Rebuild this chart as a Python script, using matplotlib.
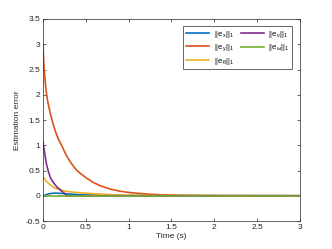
import numpy as np
import matplotlib
matplotlib.use("Agg")
from matplotlib import pyplot as plt

# values
t_ex = [0, 0.03, 0.06, 0.1, 0.15, 0.2, 0.3, 0.4, 0.5, 0.7, 1.0, 3.0]
ex = [0, 0.015, 0.035, 0.048, 0.052, 0.048, 0.035, 0.024, 0.016, 0.007, 0.002, 0]

t_ey = [0, 0.005, 0.01, 0.017, 0.025, 0.033, 0.043, 0.055, 0.07, 0.087, 0.105, 0.125,
        0.15, 0.18, 0.217, 0.255, 0.3, 0.34, 0.384, 0.43, 0.5, 0.58,
        0.665, 0.78, 0.9, 1.0, 1.13, 1.25, 1.37, 1.6, 2.0, 3.0]
ey = [3.0, 2.78, 2.6, 2.43, 2.28, 2.14, 2.0, 1.87, 1.75, 1.62, 1.5, 1.38,
      1.25, 1.12, 1.0, 0.86, 0.72, 0.62, 0.52, 0.45, 0.36, 0.27,
      0.2, 0.135, 0.09, 0.066, 0.045, 0.03, 0.02, 0.01, 0.003, 0]

t_eth = [0, 0.02, 0.043, 0.08, 0.12, 0.16, 0.2, 0.24, 0.28, 0.35, 0.43, 0.55,
         0.7, 0.85, 1.0, 1.3, 3.0]
eth = [0.38, 0.33, 0.28, 0.22, 0.17, 0.14, 0.12, 0.1, 0.085, 0.072, 0.06, 0.045,
       0.03, 0.018, 0.01, 0.004, 0]

t_ev = [0, 0.005, 0.01, 0.016, 0.023, 0.033, 0.043, 0.055, 0.065, 0.082, 0.095,
        0.11, 0.125, 0.14, 0.155, 0.17, 0.185, 0.2, 0.215, 0.23, 0.245, 0.257,
        0.275, 3.0]
ev = [1.07, 1.0, 0.95, 0.88, 0.81, 0.7, 0.61, 0.53, 0.47, 0.38, 0.33,
      0.29, 0.255, 0.22, 0.19, 0.16, 0.14, 0.12, 0.097, 0.075, 0.055, 0.04,
      0.0, 0.0]

t_ew = [0, 3.0]
ew = [0, 0]

labels = ["||e$_x$||$_1$", "||e$_y$||$_1$", "||e$_\\theta$||$_1$",
          "||e$_v$||$_1$", "||e$_\\omega$||$_1$"]
colors = ["#0072BD", "#D95319", "#EDB120", "#7E2F8E", "#77AC30"]

plt.rcParams['font.family'] = ['Liberation Sans', 'DejaVu Sans']
plt.rcParams['mathtext.default'] = 'regular'

fig = plt.figure(figsize=(3.32, 2.49), dpi=100)
ax = fig.add_axes([0.1295, 0.1124, 0.774, 0.8113])

series = [(t_ex, ex), (t_ey, ey), (t_eth, eth), (t_ev, ev), (t_ew, ew)]
for (t, v), lab, c in zip(series, labels, colors):
    ax.plot(t, v, color=c, lw=1.2, label=lab)

ax.set_xlim(0, 3)
ax.set_ylim(-0.5, 3.5)
ax.set_xticks(np.arange(0, 3.01, 0.5))
ax.set_yticks(np.arange(-0.5, 3.51, 0.5))
ax.set_xticklabels(["0", "0.5", "1", "1.5", "2", "2.5", "3"])
ax.set_yticklabels(["-0.5", "0", "0.5", "1", "1.5", "2", "2.5", "3", "3.5"])
ax.tick_params(direction='in', length=2.2, width=0.5, labelsize=6,
               top=True, right=True, colors='#262626', pad=2)
for s in ax.spines.values():
    s.set_linewidth(0.5)
    s.set_color('#262626')

ax.set_xlabel("Time (s)", fontsize=6, color='#262626', labelpad=1.5)
ax.set_ylabel("Estimation error", fontsize=6, color='#262626', labelpad=3)

leg = ax.legend(loc='upper right', ncol=2, fontsize=5.5, handlelength=3.0,
                columnspacing=0.9, handletextpad=0.6, labelspacing=0.35,
                borderpad=0.35, fancybox=False, framealpha=1,
                bbox_to_anchor=(0.985, 0.985))
leg.get_frame().set_linewidth(0.5)
leg.get_frame().set_edgecolor('#262626')

fig.savefig("out.png", dpi=100)
